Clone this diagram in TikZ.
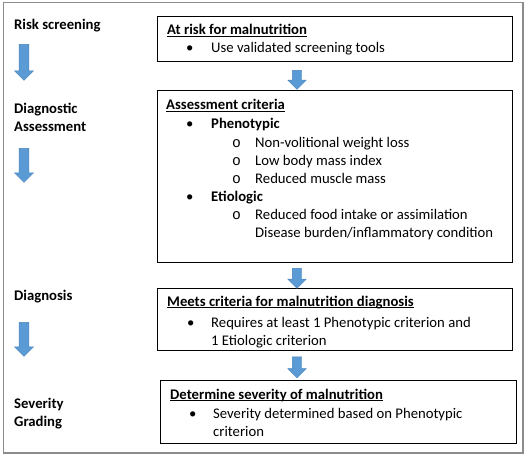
\documentclass[tikz,border=0pt]{standalone}
\usepackage{fontspec}
\setmainfont{Carlito}
\newfontfamily\monofnt{Liberation Mono}
\usetikzlibrary{shapes.arrows}
\definecolor{arrblue}{HTML}{5B9BD5}
\definecolor{arredge}{HTML}{4A84BC}
\definecolor{framegray}{HTML}{8C8C8C}
\newcommand{\ulx}[1]{{\setbox0\hbox{#1}\rlap{\rule[-2.2pt]{\wd0}{0.8pt}}\box0}}
\newcommand{\circb}{{\monofnt o}}
\begin{document}
\begin{tikzpicture}[x=1pt,y=-1pt,
  every node/.style={font=\fontsize{14.7}{17.6}\selectfont, inner sep=0pt},
  txt/.style={anchor=base west},
  lbl/.style={anchor=base west, font=\fontsize{14.7}{17.6}\selectfont\bfseries},
  stagebox/.style={draw=black, line width=0.9pt, anchor=north west},
  blockarrow/.style={shape=single arrow, fill=arrblue, draw=arredge, line width=0.4pt,
    rotate=-90, single arrow head extend=4.5pt, single arrow tip angle=90,
    inner sep=4.5pt, anchor=center}
]
\useasboundingbox (0,0) rectangle (530,462);
\fill[white] (0,0) rectangle (530,462);
\draw[framegray, line width=1.3pt] (3.5,2.5) rectangle (523,453);

% boxes
\node[stagebox, minimum width=355pt, minimum height=45pt] (b1) at (157,16) {};
\node[stagebox, minimum width=355pt, minimum height=172pt] (b2) at (157,90) {};
\node[stagebox, minimum width=355pt, minimum height=62pt] (b3) at (157,288) {};
\node[stagebox, minimum width=356pt, minimum height=63pt] (b4) at (160,380) {};

% box 1
\node[txt] (t1h) at (167,35) {\bfseries\ulx{At risk for malnutrition}};
\node[txt] (t1b) at (186,53) {\textbullet};
\node[txt] (t1a) at (211,53) {Use validated screening tools};

% box 2
\node[txt] (t2h) at (166,110) {\bfseries\ulx{Assessment criteria}};
\node[txt] (t2b1) at (186,129) {\textbullet};
\node[txt] (t2p) at (211,129) {\bfseries Phenotypic};
\node[txt] (t2c1) at (232,148) {\circb};
\node[txt] (t2p1) at (255,148) {Non-volitional weight loss};
\node[txt] (t2c2) at (232,166) {\circb};
\node[txt] (t2p2) at (255,166) {Low body mass index};
\node[txt] (t2c3) at (232,184) {\circb};
\node[txt] (t2p3) at (255,184) {Reduced muscle mass};
\node[txt] (t2b2) at (186,202) {\textbullet};
\node[txt] (t2e) at (211,202) {\bfseries Etiologic};
\node[txt] (t2c4) at (232,220) {\circb};
\node[txt] (t2e1) at (255,220) {Reduced food intake or assimilation};
\node[txt] (t2e2) at (255,238) {Disease burden/inflammatory condition};

% box 3
\node[txt] (t3h) at (167,306) {\bfseries\ulx{Meets criteria for malnutrition diagnosis}};
\node[txt] (t3b) at (187,327) {\textbullet};
\node[txt] (t3a) at (211,327) {Requires at least 1 Phenotypic criterion and};
\node[txt] (t3c) at (211,345) {1 Etiologic criterion};

% box 4
\node[txt] (t4h) at (170,399) {\bfseries\ulx{Determine severity of malnutrition}};
\node[txt] (t4b) at (189,418) {\textbullet};
\node[txt] (t4a) at (213,418) {Severity determined based on Phenotypic};
\node[txt] (t4c) at (213,436) {criterion};

% left labels
\node[lbl] (l1) at (14,30) {Risk screening};
\node[lbl] (l2a) at (14,114) {Diagnostic};
\node[lbl] (l2b) at (14,132) {Assessment};
\node[lbl] (l3) at (14,301) {Diagnosis};
\node[lbl] (l4a) at (14,408) {Severity};
\node[lbl] (l4b) at (14,426) {Grading};

% arrows between boxes
\node[blockarrow, minimum height=19pt, minimum width=17pt] (a1) at (297,77.5) {};
\node[blockarrow, minimum height=20pt, minimum width=17pt] (a2) at (297,276) {};
\node[blockarrow, minimum height=21pt, minimum width=17pt] (a3) at (297,365) {};

% left arrows
\node[blockarrow, minimum height=36pt, minimum width=19pt] (la1) at (24,60) {};
\node[blockarrow, minimum height=34pt, minimum width=19pt] (la2) at (24,163) {};
\node[blockarrow, minimum height=34pt, minimum width=19pt] (la3) at (24,337) {};
\end{tikzpicture}
\end{document}
